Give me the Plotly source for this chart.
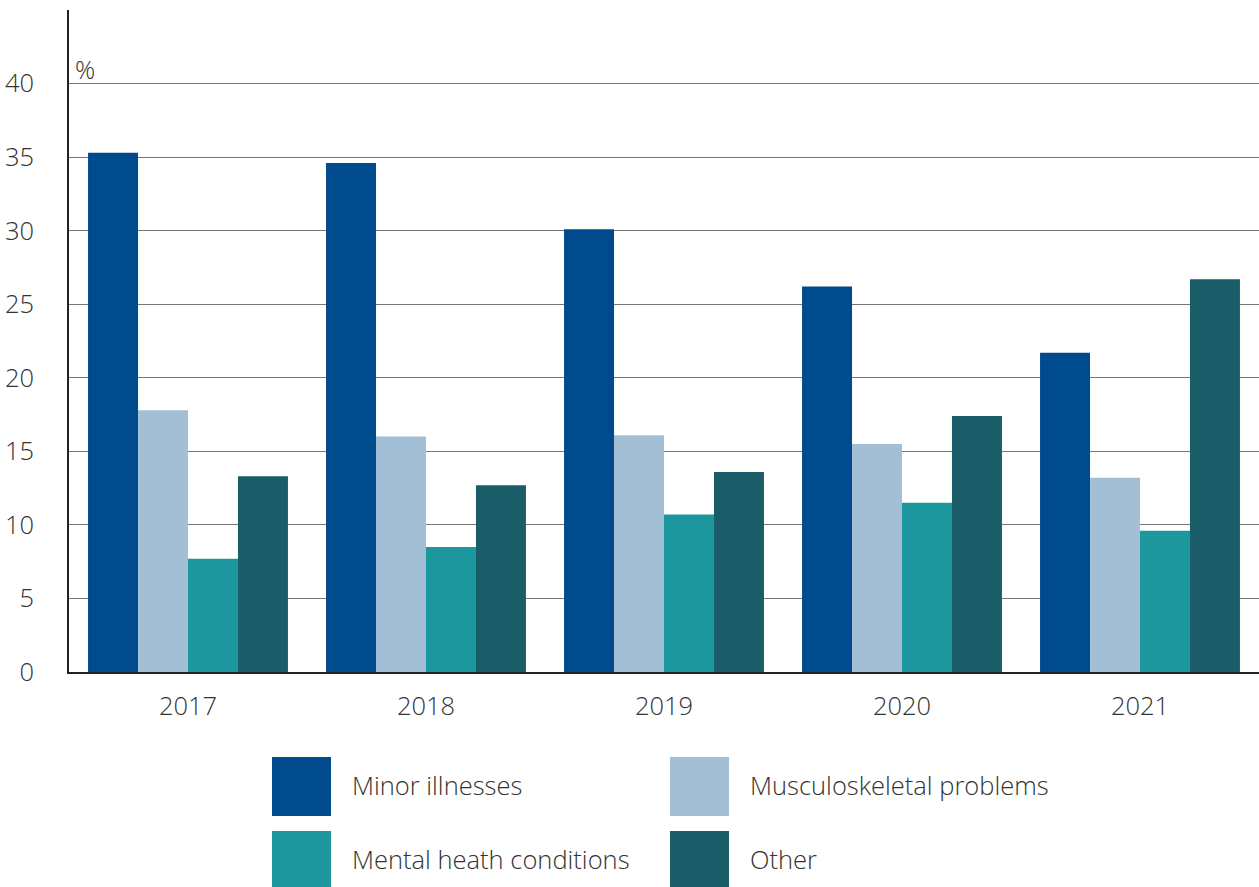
import plotly.graph_objects as go

years = ["2017", "2018", "2019", "2020", "2021"]
series_names = ["Minor illnesses", "Musculoskeletal problems", "Mental heath conditions", "Other"]
minor = [35.3, 34.6, 30.1, 26.2, 21.7]
musculo = [17.8, 16.0, 16.1, 15.5, 13.2]
mental = [7.7, 8.5, 10.7, 11.5, 9.6]
other = [13.3, 12.7, 13.6, 17.4, 26.7]
colors = ["#004B8D", "#A2BFD6", "#1B979D", "#1B5C69"]
y_ticks = [0, 5, 10, 15, 20, 25, 30, 35, 40]

W, H = 1259, 887
ML, MR, MT, MB = 69, 0, 10, 215
PW, PH = W - ML - MR, H - MT - MB

def px(x):
    return (x - ML) / PW

def py(y):
    return (H - MB - y) / PH

fig = go.Figure()
for name, vals, col in zip(series_names, [minor, musculo, mental, other], colors):
    fig.add_trace(go.Bar(x=years, y=vals, name=name, marker=dict(color=col, line=dict(width=0)),
                         showlegend=False))

FAM = "Open Sans, DejaVu Sans, sans-serif"
TXT = "#333333"
FS = 25.5

def f(size=FS):
    return dict(family=FAM, size=size, color=TXT, weight=300)

fig.update_layout(
    width=W, height=H,
    margin=dict(l=ML, r=MR, t=MT, b=MB, pad=0),
    paper_bgcolor="white", plot_bgcolor="white",
    barmode="group", bargap=0.16, bargroupgap=0,
    font=f(),
    xaxis=dict(showline=True, linecolor="#222222", linewidth=1.5, ticks="", showgrid=False,
               tickfont=f(), ticklabelstandoff=11),
    yaxis=dict(range=[0, 45], tickvals=y_ticks, showline=True, linecolor="#222222", linewidth=1.5,
               showgrid=True, gridcolor="#777777", gridwidth=1.3, zeroline=False, ticks="",
               tickfont=f(), ticklabelstandoff=28),
)

fig.add_annotation(x=px(73), y=py(69), xref="paper", yref="paper", text="%", showarrow=False,
                   xanchor="left", yanchor="middle", font=f(25))

# custom legend
leg = [(272, 757, 816, 352, 785), (670, 757, 816, 750, 785), (272, 831, 887, 352, 859), (670, 831, 887, 750, 859)]
for (x0, y0, y1, tx, ty), name, col in zip(leg, series_names, colors):
    fig.add_shape(type="rect", xref="paper", yref="paper", x0=px(x0), x1=px(x0 + 59),
                  y0=py(y0), y1=py(y1), fillcolor=col, line=dict(width=0))
    fig.add_annotation(x=px(tx - 2), y=py(ty), xref="paper", yref="paper", text=name, showarrow=False,
                       xanchor="left", yanchor="middle", font=f())

fig.write_html("out.html")
